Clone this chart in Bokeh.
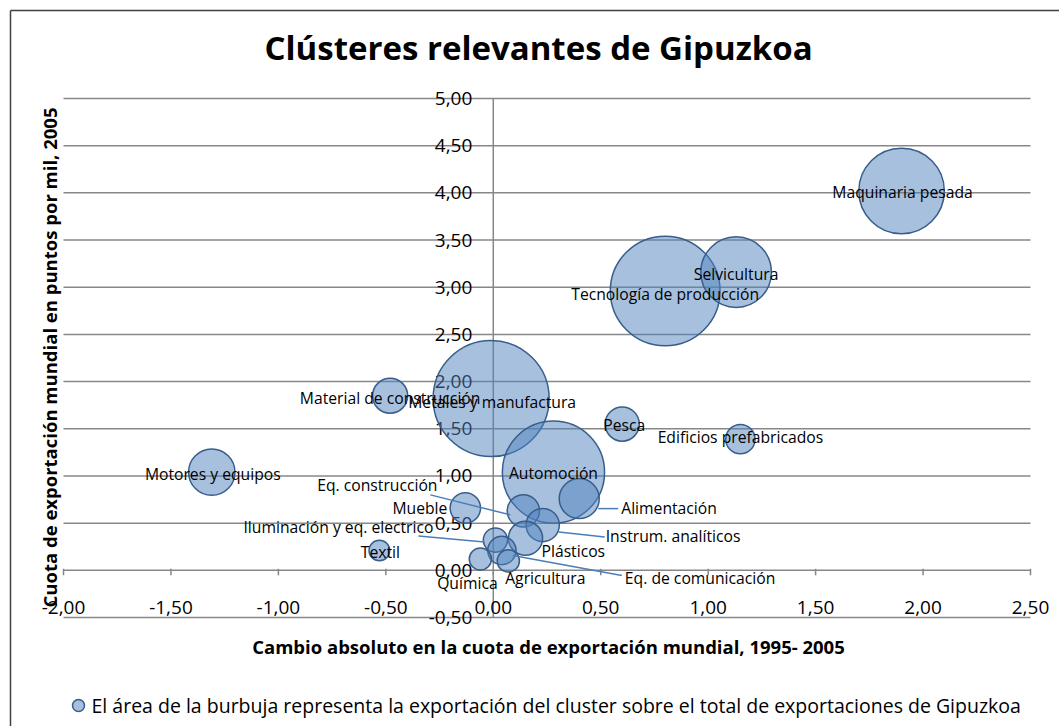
import numpy as np
from bokeh.plotting import figure
from bokeh.models import Range1d, ColumnDataSource
from bokeh.core.properties import value
from bokeh.embed import file_html
from bokeh.resources import INLINE

# ---------------- data ----------------
title_text = "Clústeres relevantes de Gipuzkoa"
x_title = "Cambio absoluto en la cuota de exportación mundial, 1995- 2005"
y_title = "Cuota de exportación mundial en puntos por mil, 2005"
legend_text = ("El área de la burbuja representa la exportación del cluster "
               "sobre el total de exportaciones de Gipuzkoa")

clusters = ["Maquinaria pesada", "Tecnología de producción", "Selvicultura", "Pesca",
            "Edificios prefabricados", "Metales y manufactura", "Material de construcción",
            "Motores y equipos", "Automoción", "Alimentación", "Eq. construcción",
            "Instrum. analíticos", "Plásticos", "Mueble", "Iluminación y eq. electrico",
            "Eq. de comunicación", "Agricultura", "Química", "Textil"]
share_change = [1.90, 0.80, 1.13, 0.60, 1.15, -0.01, -0.48, -1.31, 0.28, 0.40, 0.14,
                0.23, 0.15, -0.13, 0.01, 0.04, 0.07, -0.06, -0.53]
share_2005 = [4.02, 2.96, 3.16, 1.55, 1.39, 1.82, 1.85, 1.04, 1.04, 0.76, 0.63,
              0.48, 0.34, 0.66, 0.32, 0.21, 0.10, 0.12, 0.21]
export_weight = [11.9, 19.6, 8.1, 1.9, 1.4, 21.9, 2.0, 3.5, 17.0, 2.6, 1.7,
                 1.8, 1.9, 1.5, 0.95, 1.3, 0.8, 0.8, 0.7]

x_ticks = [-2.0, -1.5, -1.0, -0.5, 0.0, 0.5, 1.0, 1.5, 2.0, 2.5]
x_tick_labels = ["-2,00", "-1,50", "-1,00", "-0,50", "0,00", "0,50", "1,00", "1,50", "2,00", "2,50"]
y_ticks = [-0.5, 0.0, 0.5, 1.0, 1.5, 2.0, 2.5, 3.0, 3.5, 4.0, 4.5, 5.0]
y_tick_labels = ["-0,50", "0,00", "0,50", "1,00", "1,50", "2,00", "2,50", "3,00",
                 "3,50", "4,00", "4,50", "5,00"]

# ---------------- layout (pixels in the picture) ----------------
W, H = 1059, 726
PLOT_L, PLOT_R, PLOT_T, PLOT_B = 63, 1030, 98, 617
XMIN, XMAX, YMIN, YMAX = x_ticks[0], x_ticks[-1], y_ticks[0], y_ticks[-1]
SX = (PLOT_R - PLOT_L) / (XMAX - XMIN)
SY = (PLOT_B - PLOT_T) / (YMAX - YMIN)


def px_x(px):
    return XMIN + (px - PLOT_L) / SX


def px_y(py):
    return YMAX - (py - PLOT_T) / SY


FONT = "Open Sans"
BLUE_FILL = "#4F81BD"
BLUE_LINE = "#385D8A"
GRID = "#878787"

p = figure(width=W, height=H, output_backend="svg", toolbar_location=None,
           x_range=Range1d(px_x(0), px_x(W)),
           y_range=Range1d(px_y(H), px_y(0)),
           x_axis_location=None, y_axis_location=None, min_border=0,
           outline_line_color=None)
p.grid.visible = False
p.background_fill_color = "white"
p.border_fill_color = "white"

# chart border (left and top)
p.segment(x0=[px_x(10), px_x(10)], y0=[px_y(10), px_y(10)],
          x1=[px_x(10), px_x(W)], y1=[px_y(H), px_y(10)],
          line_color="#404040", line_width=1.5)

# gridlines
p.segment(x0=[XMIN] * len(y_ticks), x1=[XMAX] * len(y_ticks), y0=y_ticks, y1=y_ticks,
          line_color=GRID, line_width=1.5)
# vertical axis at x=0
p.segment(x0=[0], x1=[0], y0=[YMIN], y1=[YMAX], line_color=GRID, line_width=1.5)
# tick marks on horizontal axis (y=0)
tick_len = 5 / SY
p.segment(x0=x_ticks, x1=x_ticks, y0=[tick_len * 0.3] * len(x_ticks),
          y1=[-tick_len] * len(x_ticks), line_color=GRID, line_width=1.5)

# tick labels
p.text(x=[0] * len(y_ticks), y=y_ticks, text=y_tick_labels, x_offset=-21,
       text_align="right", text_baseline="middle", text_font=value(FONT),
       text_font_size="19px", text_color="#000000")
p.text(x=x_ticks, y=[YMIN + 10 / SY] * len(x_ticks), text=x_tick_labels,
       text_align="center", text_baseline="middle", text_font=value(FONT),
       text_font_size="19px", text_color="#000000")

# bubbles
weights = np.array(export_weight)
diam = 2 * 58 * np.sqrt(weights / weights.max())
src = ColumnDataSource(dict(x=share_change, y=share_2005, d=diam, name=clusters))
p.scatter("x", "y", size="d", source=src, marker="circle", fill_color=BLUE_FILL,
          fill_alpha=0.5, line_color=BLUE_LINE, line_width=1.5)

# label placement: pixel offsets from bubble centre (dx right, dy down), alignment
label_pos = {
    "Maquinaria pesada": (1, 1, "center"),
    "Tecnología de producción": (0, 3, "center"),
    "Selvicultura": (0, 2, "center"),
    "Pesca": (2, 1, "center"),
    "Edificios prefabricados": (0, -2, "center"),
    "Metales y manufactura": (1, 3, "center"),
    "Material de construcción": (0, 2, "center"),
    "Motores y equipos": (1, 2, "center"),
    "Automoción": (0, 1, "center"),
    "Alimentación": (42, 9, "left"),
    "Eq. construcción": (-146, -26, "center"),
    "Instrum. analíticos": (63, 11, "left"),
    "Plásticos": (16, 13, "left"),
    "Mueble": (-18, 0, "right"),
    "Iluminación y eq. electrico": (-62, -13, "right"),
    "Eq. de comunicación": (123, 27, "left"),
    "Agricultura": (37, 17, "center"),
    "Química": (-13, 24, "center"),
    "Textil": (1, 1, "center"),
}
leaders = {
    "Eq. construcción": ((-93, -16), (-13, 4)),
    "Alimentación": ((19, 10), (39, 10)),
    "Instrum. analíticos": ((16, 7), (62, 12)),
    "Iluminación y eq. electrico": ((-77, -4), (-11, 2)),
    "Eq. de comunicación": ((11, 5), (120, 25)),
}
lx0, ly0, lx1, ly1 = [], [], [], []
for name, xv, yv in zip(clusters, share_change, share_2005):
    if name in leaders:
        (a, b), (c, d) = leaders[name]
        lx0.append(xv + a / SX); ly0.append(yv - b / SY)
        lx1.append(xv + c / SX); ly1.append(yv - d / SY)
p.segment(x0=lx0, y0=ly0, x1=lx1, y1=ly1, line_color="#4A7EBB", line_width=1.5)

for align in ("center", "left", "right"):
    xs, ys, ts = [], [], []
    for name, xv, yv in zip(clusters, share_change, share_2005):
        dx, dy, al = label_pos[name]
        if al == align:
            xs.append(xv + dx / SX); ys.append(yv - dy / SY); ts.append(name)
    p.text(x=xs, y=ys, text=ts, text_align=align, text_baseline="middle",
           text_font=value(FONT), text_font_size="15.7px", text_color="#000000")

# title
p.text(x=[px_x(538)], y=[px_y(47)], text=[title_text], text_align="center",
       text_baseline="middle", text_font=value(FONT), text_font_size="33px",
       text_font_style="bold", text_color="#000000")
# axis titles
p.text(x=[px_x(548)], y=[px_y(646)], text=[x_title], text_align="center",
       text_baseline="middle", text_font=value(FONT), text_font_size="18.5px",
       text_font_style="bold", text_color="#000000")
p.text(x=[px_x(49)], y=[px_y(357)], text=[y_title], text_align="center",
       text_baseline="middle", angle=np.pi / 2, text_font=value(FONT),
       text_font_size="18.5px", text_font_style="bold", text_color="#000000")
# legend
p.scatter(x=[px_x(78)], y=[px_y(705)], size=12, marker="circle", fill_color="#A7BFDE",
          line_color=BLUE_LINE, line_width=1.5)
p.text(x=[px_x(91)], y=[px_y(705)], text=[legend_text], text_align="left",
       text_baseline="middle", text_font=value(FONT), text_font_size="19.5px",
       text_color="#000000")

open("out.html", "w").write(file_html(p, INLINE))
